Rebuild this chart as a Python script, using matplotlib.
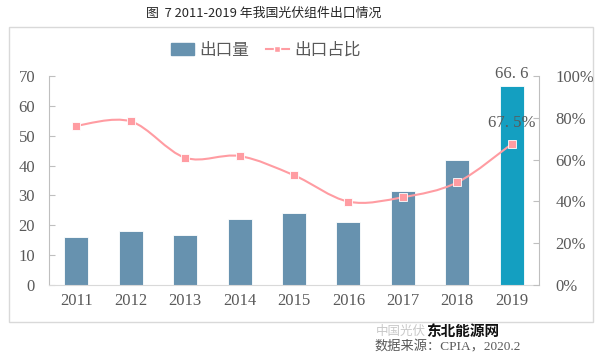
import numpy as np
import matplotlib.pyplot as plt
from matplotlib.path import Path
from matplotlib.patches import PathPatch, Rectangle

plt.rcParams['font.family'] = ['Liberation Serif', 'Noto Sans CJK SC', 'DejaVu Sans']

# data
years = ['2011', '2012', '2013', '2014', '2015', '2016', '2017', '2018', '2019']
export_gw = [16.2, 18.1, 16.7, 22.0, 24.0, 21.2, 31.5, 41.7, 66.6]
export_share = [76.2, 78.3, 60.9, 61.7, 52.5, 39.9, 42.0, 49.1, 67.5]

bar_color = '#6792AF'
last_color = '#149FC1'
line_color = '#FF9CA2'
text_grey = '#595959'
axis_grey = '#BFBFBF'


def smooth_path(xs, ys, k=1/6):
    # Catmull-Rom style bezier through the points (like the spreadsheet "smooth line")
    verts = [(xs[0], ys[0])]
    codes = [Path.MOVETO]
    n = len(xs)
    for i in range(n - 1):
        x0, y0 = xs[max(i - 1, 0)], ys[max(i - 1, 0)]
        x1, y1 = xs[i], ys[i]
        x2, y2 = xs[i + 1], ys[i + 1]
        x3, y3 = xs[min(i + 2, n - 1)], ys[min(i + 2, n - 1)]
        c1 = (x1 + (x2 - x0) * k, y1 + (y2 - y0) * k)
        c2 = (x2 - (x3 - x1) * k, y2 - (y3 - y1) * k)
        verts += [c1, c2, (x2, y2)]
        codes += [Path.CURVE4] * 3
    return Path(verts, codes)


fig = plt.figure(figsize=(6.0, 3.53), dpi=100)
fig.patch.set_facecolor('white')

# outer frame of the chart area
fig.patches.append(Rectangle((9 / 600, 1 - 322 / 353), 584 / 600, 295 / 353,
                             transform=fig.transFigure, fill=False,
                             edgecolor='#D9D9D9', linewidth=1.0))

fig.text(0.44, 1 - 13 / 353, '图  7 2011-2019 年我国光伏组件出口情况',
         ha='center', va='center', fontsize=9.3, color='#262626',
         family=['Noto Sans CJK SC', 'DejaVu Sans'])

ax = fig.add_axes([49 / 600, 1 - 285 / 353, 490 / 600, 209 / 353])
x = np.arange(len(years))
colors = [bar_color] * (len(years) - 1) + [last_color]
bars = ax.bar(x, export_gw, width=0.44, color=colors, edgecolor='white',
              linewidth=0.6, zorder=2)
ax.set_xlim(-0.5, len(years) - 0.5)
ax.set_ylim(0, 70)
ax.set_yticks(range(0, 71, 10))
ax.set_xticks(x)
ax.set_xticklabels(years)
ax.tick_params(axis='x', length=0, labelsize=12, colors=text_grey, pad=6)
ax.tick_params(axis='y', direction='in', length=4, labelsize=12,
               colors=text_grey, pad=10, color=axis_grey)
for side in ['top', 'right']:
    ax.spines[side].set_visible(False)
ax.spines['left'].set_color(axis_grey)
ax.spines['bottom'].set_color('#D9D9D9')

ax.text(x[-1], export_gw[-1] + 1.5, '66. 6', ha='center', va='bottom',
        fontsize=12, color=text_grey)

ax2 = ax.twinx()
ax2.set_ylim(0, 100)
ax2.set_yticks(range(0, 101, 20))
ax2.set_yticklabels([f'{v}%' for v in range(0, 101, 20)])
ax2.tick_params(axis='y', direction='in', length=4, labelsize=12,
                colors=text_grey, pad=12, color=axis_grey)
for side in ['top', 'left', 'bottom']:
    ax2.spines[side].set_visible(False)
ax2.spines['right'].set_color(axis_grey)

ax2.add_patch(PathPatch(smooth_path(list(x), export_share), fill=False,
                        edgecolor=line_color, linewidth=1.5, zorder=3))
ax2.plot(x, export_share, linestyle='none', marker='s', markersize=6,
         markerfacecolor=line_color, markeredgecolor='white',
         markeredgewidth=0.6, zorder=4)
ax2.text(x[-1], export_share[-1] + 6, '67. 5%', ha='center', va='bottom',
         fontsize=12, color=text_grey)

# legend
handles = [Rectangle((0, 0), 1, 1, color=bar_color),
           plt.Line2D([], [], color=line_color, linewidth=1.5, marker='s',
                      markersize=5, markerfacecolor=line_color,
                      markeredgecolor='white')]
fig.legend(handles, ['出口量', '出口占比'], loc='center',
           bbox_to_anchor=(0.443, 1 - 50 / 353), ncol=2, frameon=False,
           handlelength=1.4, handletextpad=0.3, columnspacing=1.0,
           labelcolor=text_grey,
           prop={'family': ['Noto Sans CJK SC', 'DejaVu Sans'], 'size': 12})

fig.text(376 / 600, 1 - 331 / 353, '中国光伏', ha='left', va='center',
         fontsize=9, color='#C8C8C8', family=['Noto Sans CJK SC'])
fig.text(463 / 600, 1 - 331 / 353, '东北能源网', ha='center', va='center',
         fontsize=10.5, color='#111111', fontweight='bold',
         family=['Noto Sans CJK SC'])
fig.text(521 / 600, 1 - 346.5 / 353, '数据来源：CPIA，2020.2', ha='right', va='center',
         fontsize=9.5, color=text_grey,
         family=['Liberation Serif', 'Noto Sans CJK SC'])

fig.savefig('out.png', dpi=100)
